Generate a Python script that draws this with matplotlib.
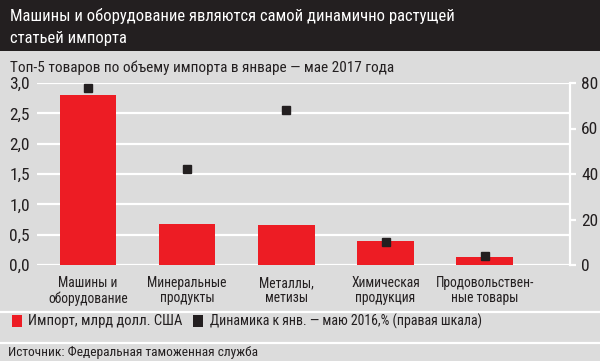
import matplotlib
matplotlib.use("Agg")
from matplotlib import pyplot as plt

plt.rcParams["font.family"] = ["Roboto Condensed", "DejaVu Sans"]
plt.rcParams["font.stretch"] = "condensed"

# data
categories = ["Машины и\nоборудование", "Минеральные\nпродукты", "Металлы,\nметизы",
              "Химическая\nпродукция", "Продовольствен-\nные товары"]
imports_bn_usd = [2.81, 0.68, 0.66, 0.40, 0.13]
dynamics_pct = [78, 42, 68, 10, 4]
left_ticks = [0.0, 0.5, 1.0, 1.5, 2.0, 2.5, 3.0]
right_ticks = [0, 20, 40, 60, 80]

RED = "#ed1c24"
DARK = "#231f20"
BG = "#dcdcdc"
W, H = 600, 361

fig = plt.figure(figsize=(W / 100, H / 100), dpi=100, facecolor=BG)

# dark title band
fig.patches.append(plt.Rectangle((0, 1 - 51 / H), 1, 51 / H, transform=fig.transFigure,
                                 facecolor=DARK, edgecolor="none", zorder=0))
fig.text(10 / W, 1 - 16 / H, "Машины и оборудование являются самой динамично растущей",
         color="white", fontsize=12, va="center", ha="left")
fig.text(10 / W, 1 - 38 / H, "статьей импорта", color="white", fontsize=12, va="center", ha="left")
fig.text(10 / W, 1 - 68 / H, "Топ-5 товаров по объему импорта в январе — мае 2017 года",
         color=DARK, fontsize=11, va="center", ha="left")

# main axes
ax = fig.add_axes([37 / W, 1 - 265 / H, (570 - 37) / W, (265 - 83) / H])
ax.set_facecolor("none")
x = list(range(len(categories)))
ax.bar(x, imports_bn_usd, width=0.57, color=RED, zorder=3)
ax.set_xlim(-0.515, 4.86)
ax.set_ylim(0, 3.0)
ax.set_yticks(left_ticks)
ax.set_yticklabels([f"{v:.1f}".replace(".", ",") for v in left_ticks])
ax.grid(axis="y", color="white", linewidth=1.6, zorder=1)
for s in ax.spines.values():
    s.set_visible(False)
ax.tick_params(axis="y", length=0, pad=5, labelsize=12.5, labelcolor=DARK)
ax.set_xticks(x)
ax.set_xticklabels(categories)
ax.tick_params(axis="x", length=0, pad=8, labelsize=9.8, labelcolor=DARK)
for lbl in ax.get_xticklabels():
    lbl.set_linespacing(1.1)

ax2 = ax.twinx()
ax2.set_ylim(0, 80)
ax2.set_yticks(right_ticks)
ax2.plot(x, dynamics_pct, ls="none", marker="s", markersize=6, color=DARK, zorder=5)
for s in ["top", "left", "bottom"]:
    ax2.spines[s].set_visible(False)
ax2.spines["right"].set_color("white")
ax2.spines["right"].set_linewidth(1.6)
ax2.tick_params(axis="y", length=4, width=1.6, color="white", pad=4, labelsize=12.5, labelcolor=DARK)

# separators
for yy in (312, 343):
    fig.add_artist(plt.Line2D([0, 1], [1 - yy / H, 1 - yy / H], transform=fig.transFigure,
                              color="white", linewidth=1.6))

# legend
fig.patches.append(plt.Rectangle((12 / W, 1 - 327 / H), 10 / W, 12 / H, transform=fig.transFigure,
                                 facecolor=RED, edgecolor="none"))
fig.text(28 / W, 1 - 321 / H, "Импорт, млрд долл. США", color=DARK, fontsize=10.5, va="center")
fig.patches.append(plt.Rectangle((193 / W, 1 - 327 / H), 10 / W, 12 / H, transform=fig.transFigure,
                                 facecolor=DARK, edgecolor="none"))
fig.text(210 / W, 1 - 321 / H, "Динамика к янв. — маю 2016,% (правая шкала)", color=DARK,
         fontsize=10, va="center")

fig.text(8 / W, 1 - 352 / H, "Источник: Федеральная таможенная служба", color=DARK,
         fontsize=9.6, va="center")

fig.savefig("out.png", dpi=100, facecolor=BG)
